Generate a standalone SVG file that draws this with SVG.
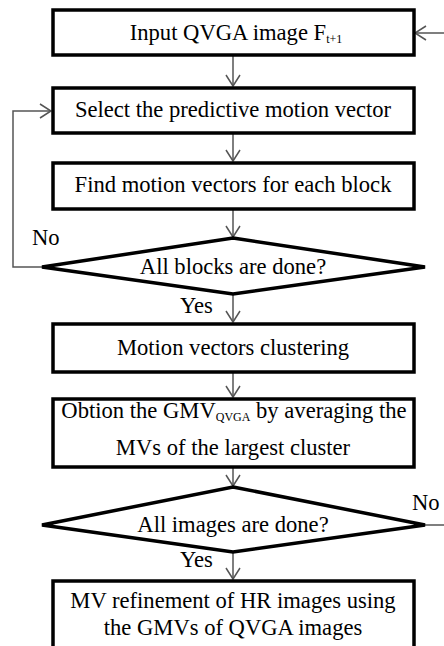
<svg xmlns="http://www.w3.org/2000/svg" width="444" height="646" viewBox="0 0 444 646">
<style>
.box{fill:#fff;stroke:#000;stroke-width:3.5}
.t{font-family:"Liberation Serif","Times New Roman",serif;font-size:22.6px;fill:#000;text-anchor:middle}
.l{font-family:"Liberation Serif","Times New Roman",serif;font-size:22.6px;fill:#000}
.sub{font-size:12px}
.c{fill:none;stroke:#555;stroke-width:1.5}
</style>
<defs>
<marker id="ah" markerUnits="userSpaceOnUse" markerWidth="14" markerHeight="16" refX="11" refY="7" orient="auto" viewBox="-1 -1 14 16">
<path d="M0,0 L11,7 L0,14" fill="none" stroke="#555" stroke-width="1.5"/>
</marker>
</defs>
<rect width="444" height="646" fill="#fff"/>
<g id="connectors">
<line class="c" x1="233" y1="55" x2="233" y2="86" marker-end="url(#ah)"/>
<line class="c" x1="233" y1="133" x2="233" y2="161" marker-end="url(#ah)"/>
<line class="c" x1="233" y1="209" x2="233" y2="237" marker-end="url(#ah)"/>
<line class="c" x1="233" y1="294" x2="233" y2="322" marker-end="url(#ah)"/>
<line class="c" x1="233" y1="372" x2="233" y2="397" marker-end="url(#ah)"/>
<line class="c" x1="233" y1="467" x2="233" y2="486" marker-end="url(#ah)"/>
<line class="c" x1="233" y1="552" x2="233" y2="579" marker-end="url(#ah)"/>
<polyline class="c" points="42,267 13,267 13,111 51,111" marker-end="url(#ah)"/>
<polyline class="c" points="425,525 446,525 446,33 415,33" marker-end="url(#ah)"/>
<text class="l" x="32" y="245">No</text>
<text class="l" x="180" y="313">Yes</text>
<text class="l" x="412" y="510">No</text>
<text class="l" x="180" y="567">Yes</text>
</g>
<g id="n1">
<rect class="box" x="53" y="10" width="361" height="45"/>
<text class="t" x="236" y="40">Input QVGA image F<tspan class="sub" dy="3">t+1</tspan></text>
</g>
<g id="n2">
<rect class="box" x="53" y="88" width="361" height="45"/>
<text class="t" x="233" y="117">Select the predictive motion vector</text>
</g>
<g id="n3">
<rect class="box" x="53" y="163" width="361" height="46"/>
<text class="t" x="233" y="192">Find motion vectors for each block</text>
</g>
<g id="d1">
<polygon class="box" points="233,238 425,267 233,294 42,267"/>
<text class="t" x="233" y="274">All blocks are done?</text>
</g>
<g id="n4">
<rect class="box" x="53" y="324" width="361" height="48"/>
<text class="t" x="233" y="355">Motion vectors clustering</text>
</g>
<g id="n5">
<rect class="box" x="53" y="399" width="361" height="68"/>
<text class="t" x="234" y="418">Obtion the GMV<tspan class="sub" dy="3">QVGA</tspan><tspan dy="-3"> by averaging the</tspan></text>
<text class="t" x="233" y="455">MVs of the largest cluster</text>
</g>
<g id="d2">
<polygon class="box" points="233,487 425,525 233,552 42,525"/>
<text class="t" x="233" y="532">All images are done?</text>
</g>
<g id="n6">
<rect class="box" x="53" y="581" width="361" height="80"/>
<text class="t" x="233" y="608">MV refinement of HR images using</text>
<text class="t" x="233" y="635">the GMVs of QVGA images</text>
</g>
</svg>
